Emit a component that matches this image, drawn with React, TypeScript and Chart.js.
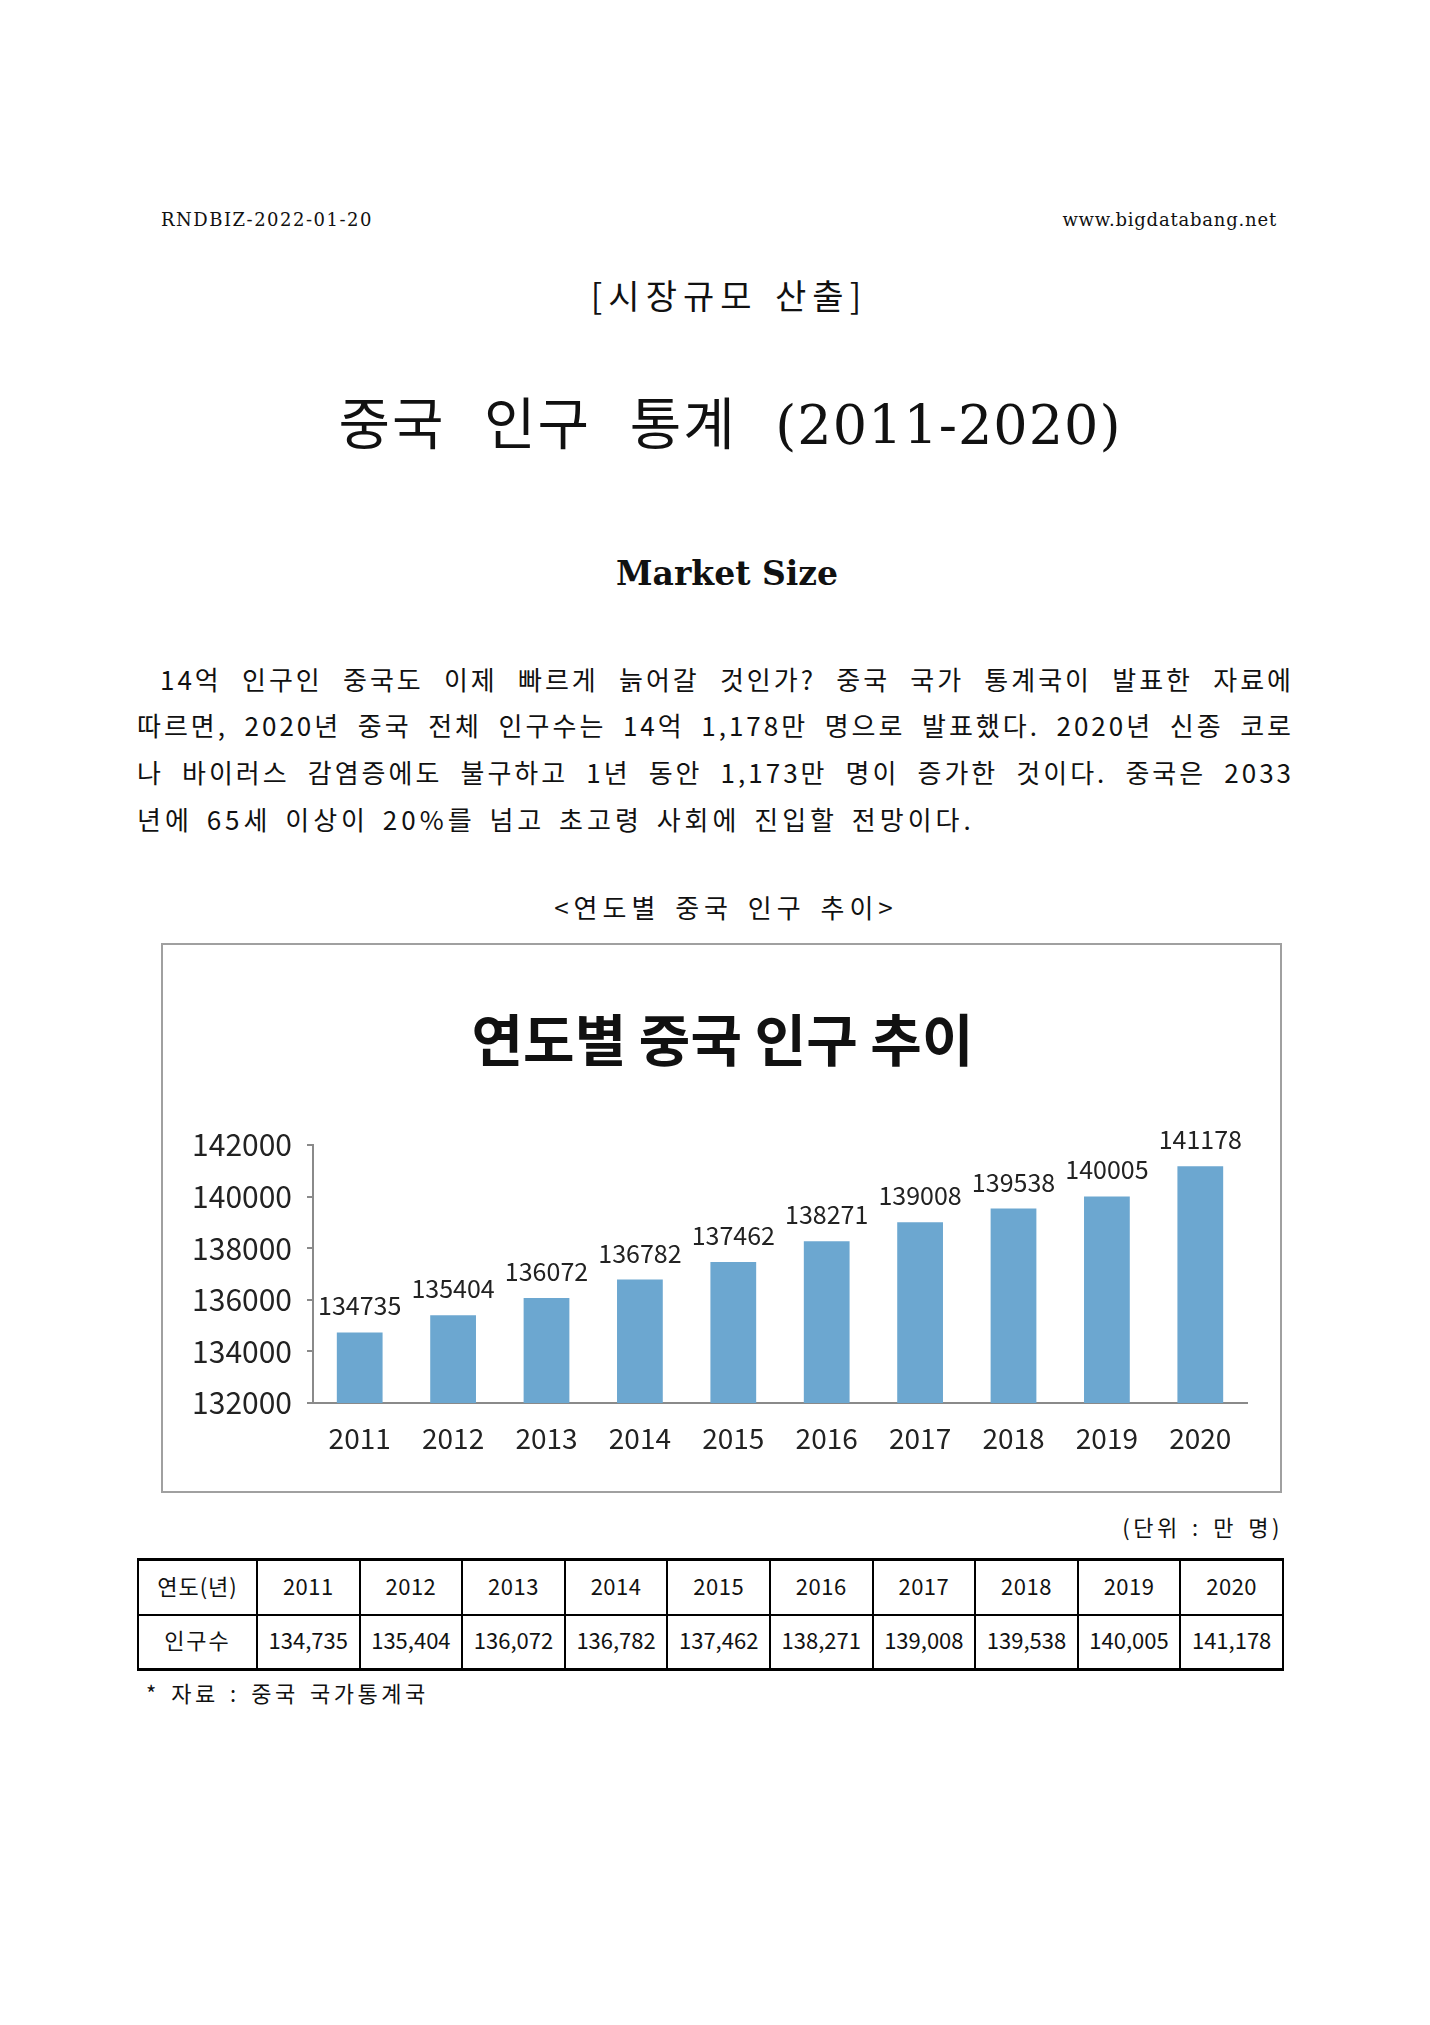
import React, { useEffect, useRef } from 'react';
import { Chart, registerables } from 'chart.js';

Chart.register(...registerables);

// ---- data ----
const YEARS: string[] = ['2011', '2012', '2013', '2014', '2015', '2016', '2017', '2018', '2019', '2020'];
const POPULATION: number[] = [134735, 135404, 136072, 136782, 137462, 138271, 139008, 139538, 140005, 141178];
const Y_MIN = 132000;
const Y_MAX = 142000;
const Y_STEP = 2000;

const CHART_TITLE = '연도별 중국 인구 추이';
const HEADER_LEFT = 'RNDBIZ-2022-01-20';
const HEADER_RIGHT = 'www.bigdatabang.net';
const SECTION = '[시장규모 산출]';
const TITLE_KO = '중국 인구 통계 ';
const TITLE_YEARS = '(2011-2020)';
const SUBTITLE = 'Market Size';
const PARAGRAPH_LINES: string[] = [
  '14억 인구인 중국도 이제 빠르게 늙어갈 것인가? 중국 국가 통계국이 발표한 자료에',
  '따르면, 2020년 중국 전체 인구수는 14억 1,178만 명으로 발표했다. 2020년 신종 코로',
  '나 바이러스 감염증에도 불구하고 1년 동안 1,173만 명이 증가한 것이다. 중국은 2033',
  '년에 65세 이상이 20%를 넘고 초고령 사회에 진입할 전망이다.',
];
const CAPTION = '<연도별 중국 인구 추이>';
const UNIT = '(단위 : 만 명)';
const TABLE_HEAD = '연도(년)';
const TABLE_ROW = '인구수';
const SOURCE = '* 자료 : 중국 국가통계국';

const KR = '"Noto Sans CJK KR", sans-serif';
const SERIF = '"DejaVu Serif", "Noto Sans CJK KR", serif';
const BAR_COLOR = '#6ca7d0';
const AXIS_COLOR = '#8a8a8a';
const TEXT_COLOR = '#222222';

const valueLabels = {
  id: 'valueLabels',
  afterDatasetsDraw(chart: any) {
    const ctx = chart.ctx;
    const meta = chart.getDatasetMeta(0);
    const data = chart.data.datasets[0].data;
    ctx.save();
    ctx.font = `25px ${KR}`;
    ctx.fillStyle = TEXT_COLOR;
    ctx.textAlign = 'center';
    ctx.textBaseline = 'alphabetic';
    meta.data.forEach((bar: any, i: number) => {
      ctx.fillText(String(data[i]), bar.x, bar.y - 17);
    });
    ctx.restore();
  },
};

const centeredTitle = {
  id: 'centeredTitle',
  afterDraw(chart: any) {
    const ctx = chart.ctx;
    ctx.save();
    ctx.font = `bold 56px ${KR}`;
    ctx.fillStyle = '#111';
    ctx.textAlign = 'center';
    ctx.textBaseline = 'middle';
    ctx.fillText(CHART_TITLE, chart.width / 2 + 1, 95);
    ctx.restore();
  },
};

function PopulationChart() {
  const ref = useRef<HTMLCanvasElement | null>(null);
  useEffect(() => {
    if (!ref.current) return;
    const chart = new Chart(ref.current, {
      type: 'bar',
      data: {
        labels: YEARS,
        datasets: [
          {
            data: POPULATION,
            backgroundColor: BAR_COLOR,
            borderWidth: 0,
            barPercentage: 0.49,
            categoryPercentage: 1.0,
          },
        ],
      },
      options: {
        responsive: false,
        animation: false,
        devicePixelRatio: 1,
        layout: { padding: { top: 200, right: 33, bottom: 28, left: 0 } },
        plugins: {
          legend: { display: false },
          tooltip: { enabled: false },
          title: { display: false },
        },
        scales: {
          x: {
            grid: { display: false, drawTicks: false },
            border: { display: true, color: AXIS_COLOR, width: 2 },
            ticks: { padding: 19, color: TEXT_COLOR, font: { family: KR, size: 28 } },
            afterFit: (scale: any) => {
              scale.height = 60;
            },
          },
          y: {
            min: Y_MIN,
            max: Y_MAX,
            grid: { drawOnChartArea: false, drawTicks: true, tickLength: 6, color: AXIS_COLOR, lineWidth: 2 },
            border: { display: true, color: AXIS_COLOR, width: 2 },
            ticks: {
              stepSize: Y_STEP,
              padding: 15,
              color: TEXT_COLOR,
              font: { family: KR, size: 30 },
              callback: (v: any) => String(v),
            },
            afterFit: (scale: any) => {
              scale.width = 150;
            },
          },
        },
      },
      plugins: [valueLabels, centeredTitle],
    } as any);
    return () => chart.destroy();
  }, []);
  return <canvas ref={ref} width={1117} height={546} style={{ display: 'block' }} />;
}

const abs = (left: number, top: number, extra: React.CSSProperties = {}): React.CSSProperties => ({
  position: 'absolute',
  left,
  top,
  whiteSpace: 'nowrap',
  color: '#111',
  ...extra,
});

export default function App() {
  const colW = [119, ...YEARS.map(() => 102.6)];
  const cellBase: React.CSSProperties = {
    border: '2px solid #000',
    textAlign: 'center',
    verticalAlign: 'middle',
    padding: '0 0 5px 0',
    fontFamily: KR,
    fontSize: 22,
    color: '#111',
  };
  return (
    <div style={{ position: 'absolute', left: 0, top: 0, width: 1430, height: 2025, background: '#fff', overflow: 'hidden' }}>
      {/* header */}
      <div style={abs(161, 208, { fontFamily: SERIF, fontSize: 18, lineHeight: '24px', letterSpacing: 1.5 })}>{HEADER_LEFT}</div>
      <div style={abs(0, 208, { width: 1277, textAlign: 'right', fontFamily: SERIF, fontSize: 18, lineHeight: '24px', letterSpacing: 0.8 })}>{HEADER_RIGHT}</div>

      {/* section */}
      <div style={abs(0, 274, { width: 1458, textAlign: 'center', fontFamily: KR, fontSize: 34, lineHeight: '42px', letterSpacing: 6, wordSpacing: 4 })}>{SECTION}</div>

      {/* title */}
      <div style={abs(0, 384, { width: 1460, textAlign: 'center', lineHeight: '72px' })}>
        <span style={{ fontFamily: KR, fontSize: 56, letterSpacing: 2, wordSpacing: 24 }}>{TITLE_KO}</span>
        <span style={{ fontFamily: SERIF, fontSize: 54, letterSpacing: 1 }}>{TITLE_YEARS}</span>
      </div>

      {/* Market Size */}
      <div style={abs(0, 554, { width: 1454, textAlign: 'center', fontFamily: SERIF, fontSize: 33, fontWeight: 'bold', lineHeight: '40px' })}>{SUBTITLE}</div>

      {/* paragraph */}
      {PARAGRAPH_LINES.map((line, i) => {
        const tops = [680, 726, 773, 820];
        const left = i === 0 ? 160 : 137;
        const last = i === PARAGRAPH_LINES.length - 1;
        return (
          <div
            key={i}
            style={abs(left, tops[i] - 18, {
              width: 1294 - left,
              fontFamily: KR,
              fontSize: 26,
              lineHeight: '34px',
              letterSpacing: last ? 4 : 3,
              wordSpacing: last ? 4 : 0,
              textAlign: last ? 'left' : 'justify',
              textAlignLast: last ? 'left' : 'justify',
              whiteSpace: 'normal',
            } as React.CSSProperties)}
          >
            {line}
          </div>
        );
      })}

      {/* caption */}
      <div style={abs(0, 890, { width: 1452, textAlign: 'center', fontFamily: KR, fontSize: 26, lineHeight: '34px', letterSpacing: 5, wordSpacing: 4 })}>{CAPTION}</div>

      {/* chart box */}
      <div style={{ position: 'absolute', left: 161, top: 943, width: 1121, height: 550, border: '2px solid #a0a0a0', boxSizing: 'border-box', background: '#fff' }}>
        <PopulationChart />
      </div>

      {/* unit */}
      <div style={abs(0, 1511, { width: 1283, textAlign: 'right', fontFamily: KR, fontSize: 22, lineHeight: '30px', letterSpacing: 3.5, wordSpacing: 3 })}>{UNIT}</div>

      {/* table */}
      <table
        style={{
          position: 'absolute',
          left: 137,
          top: 1558,
          width: 1145,
          borderCollapse: 'collapse',
          tableLayout: 'fixed',
          borderTop: '3px solid #000',
          borderBottom: '3px solid #000',
        }}
      >
        <colgroup>
          {colW.map((w, i) => (
            <col key={i} style={{ width: w }} />
          ))}
        </colgroup>
        <tbody>
          <tr style={{ height: 55 }}>
            <td style={{ ...cellBase, borderTop: '3px solid #000', letterSpacing: 1 }}>{TABLE_HEAD}</td>
            {YEARS.map((y) => (
              <td key={y} style={{ ...cellBase, borderTop: '3px solid #000', letterSpacing: 0.5 }}>{y}</td>
            ))}
          </tr>
          <tr style={{ height: 55 }}>
            <td style={{ ...cellBase, borderBottom: '3px solid #000', letterSpacing: 2 }}>{TABLE_ROW}</td>
            {POPULATION.map((v, i) => (
              <td key={i} style={{ ...cellBase, borderBottom: '3px solid #000', letterSpacing: 0 }}>{v.toLocaleString('en-US')}</td>
            ))}
          </tr>
        </tbody>
      </table>

      {/* source */}
      <div style={abs(146, 1677, { fontFamily: KR, fontSize: 22, lineHeight: '30px', letterSpacing: 3.5, wordSpacing: 3 })}>{SOURCE}</div>
    </div>
  );
}
